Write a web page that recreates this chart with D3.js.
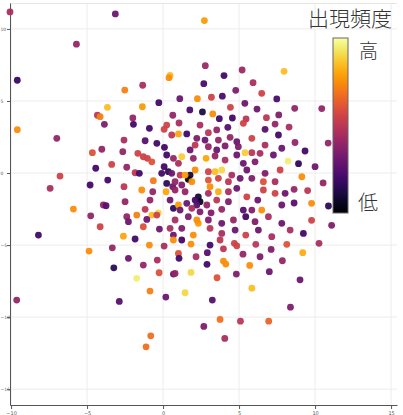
<!DOCTYPE html>
<html><head><meta charset="utf-8">
<script src="https://cdn.jsdelivr.net/npm/d3@7"></script>
<style>body{margin:0;background:#fff;overflow:hidden}</style>
</head><body>
<svg id="chart" width="403" height="415"></svg>
<script>
const xValues = [-10.07,-3.14,-5.70,-9.59,-2.52,-1.34,0.46,0.39,-3.66,-1.36,-0.28,-4.32,-4.14,-1.99,0.64,2.72,2.78,4.01,5.20,7.96,2.68,5.92,4.78,6.49,1.10,2.26,3.18,3.90,7.48,5.38,4.43,1.76,2.59,3.27,6.18,8.66,10.44,7.61,6.80,4.56,3.70,5.46,
-9.59,-6.99,-3.86,-1.95,-2.57,-0.90,0.24,0.07,0.57,-1.18,-0.41,-4.65,-4.03,-2.65,-1.66,-1.30,-1.03,-0.74,0.24,0.68,-3.38,-2.39,-4.43,-1.84,-1.56,0.07,-0.09,-6.78,-7.43,-3.64,-4.80,-2.57,-1.40,-0.64,0.24,0.64,-0.68,0.20,-5.90,-3.93,-3.75,-2.50,-0.86,0.46,0.68,-1.18,-0.31,-0.74,-0.41,-1.73,-2.39,-4.76,-2.28,-1.07,-4.14,-1.30,-0.24,0.46,-8.20,-2.61,-1.84,0.68,0.09,0.35,
1.05,2.43,1.01,1.56,2.22,2.98,3.53,4.26,5.28,6.71,7.37,8.29,7.59,5.84,4.41,4.85,6.71,8.68,9.34,10.86,7.81,7.26,6.38,5.84,5.39,4.95,4.85,4.08,3.53,2.98,3.64,2.76,2.11,1.78,1.23,1.99,2.83,3.42,4.08,5.28,6.05,8.22,8.91,10.00,6.71,7.70,7.37,6.60,9.13,10.53,5.84,5.51,5.07,4.52,4.30,3.86,3.42,2.98,3.09,3.64,2.11,1.78,1.66,1.89,1.12,1.23,0.79,2.32,2.43,2.11,2.22,1.45,1.56,1.01,2.98,3.53,2.88,4.30,4.85,5.51,6.23,6.60,7.37,8.03,8.62,9.51,9.77,10.88,8.62,7.81,6.49,5.84,5.28,4.30,3.86,3.16,2.43,1.89,1.12,1.66,2.32,2.22,2.98,3.09,3.86,4.63,5.44,6.05,6.93,7.81,9.77,11.09,8.36,7.15,6.27,5.44,4.74,3.86,1.23,1.99,0.79,9.23,1.45,1.01,0.57,0.79,2.98,3.64,
-4.87,-3.34,-0.90,0.07,0.68,-2.28,-3.24,-1.30,-0.38,-0.26,0.68,-1.73,-0.86,0.18,-2.88,-9.63,-0.81,-1.12,1.23,1.84,3.09,1.01,1.05,2.17,2.91,3.97,3.75,4.69,4.85,6.10,7.11,8.14,10.26,9.19,5.26,6.38,7.85,3.97,4.13,5.70,2.89,0.79,1.84,3.55,4.82,6.99,9.01,1.45,5.84,3.24,8.38,3.75,5.09,6.95,2.68,4.06];

const yValues = [11.18,11.04,8.94,6.44,5.76,6.09,6.77,6.62,4.56,4.60,4.88,4.01,3.91,3.82,4.01,10.58,7.45,6.76,7.15,7.06,6.20,6.27,5.74,5.53,5.16,5.16,5.26,5.33,5.14,4.84,4.56,4.38,4.24,4.10,4.44,4.49,4.47,4.03,3.84,3.82,3.77,3.75,
3.01,2.41,3.38,3.38,2.29,3.10,3.33,3.03,2.64,2.24,2.06,1.41,1.65,1.48,1.37,1.13,1.02,0.78,1.25,1.02,0.60,0.40,0.33,0.02,-0.02,0.44,-0.02,-0.21,-1.06,-0.49,-0.83,-0.95,-1.18,-0.53,-0.72,-0.95,-1.30,-1.30,-2.50,-2.22,-2.27,-1.99,-1.88,-1.88,-2.45,-2.52,-2.76,-2.92,-2.92,-2.92,-3.03,-2.97,-3.38,-3.22,-3.73,-3.73,-3.89,-3.84,-4.31,-4.38,-4.58,-4.31,1.78,0.09,
3.47,3.33,2.71,2.71,2.41,2.80,2.99,3.17,3.45,3.03,3.40,3.19,2.64,2.41,2.48,2.17,1.94,2.12,1.53,2.08,1.72,1.25,1.37,1.41,1.41,1.83,1.25,1.88,1.60,1.83,2.29,2.29,1.94,1.60,1.13,1.02,1.02,1.18,0.90,0.67,0.78,0.83,0.65,0.44,-0.02,0.21,-0.60,-0.60,-0.26,-0.69,-0.37,0.21,-0.37,-0.14,-0.60,0.21,0.09,-0.49,-0.95,-1.30,0.21,-0.14,-0.44,-0.60,-0.14,-0.83,-0.60,-1.65,-1.99,-1.88,-2.22,-1.30,-2.10,-2.22,-1.41,-1.88,-2.22,-1.30,-1.06,-1.65,-1.88,-1.18,-1.41,-1.41,-1.13,-1.22,-2.10,-2.29,-2.08,-2.22,-2.57,-2.57,-2.57,-1.99,-2.52,-2.76,-2.69,-2.45,-2.57,-3.03,-3.49,-3.26,-3.26,-3.84,-3.49,-3.26,-3.03,-3.38,-3.03,-3.49,-3.28,-3.63,-3.96,-4.42,-3.96,-4.31,-3.96,-4.19,-3.84,-4.31,-3.26,-4.19,-0.14,0.67,-0.02,-1.18,0.09,-0.37,
-5.42,-5.19,-5.00,-5.07,-4.65,-5.92,-6.58,-6.39,-6.04,-6.92,-7.01,-7.31,-8.19,-8.61,-8.91,-8.82,-11.30,-12.06,-4.65,-4.93,-5.00,-5.58,-5.92,-5.81,-5.53,-5.26,-4.65,-4.88,-5.05,-4.95,-5.30,-4.95,-4.88,-5.53,-5.63,-5.81,-6.09,-6.11,-6.32,-6.41,-6.34,-6.97,-6.90,-7.27,-7.01,-6.85,-7.41,-8.31,-7.99,-8.82,-9.31,-10.16,-10.28,-10.28,-10.65,-11.48];

const freqValues = [0.45,0.30,0.40,0.18,0.72,0.45,0.85,0.75,0.85,0.78,0.20,0.50,0.72,0.40,0.40,0.78,0.42,0.20,0.42,0.85,0.22,0.45,0.35,0.55,0.30,0.75,0.55,0.22,0.22,0.30,0.55,0.22,0.12,0.75,0.30,0.40,0.40,0.35,0.50,0.20,0.20,0.50,
0.75,0.40,0.35,0.20,0.45,0.20,0.55,0.55,0.50,0.25,0.20,0.60,0.40,0.40,0.55,0.55,0.55,0.60,0.20,0.40,0.55,0.40,0.20,0.50,0.20,0.20,0.20,0.55,0.45,0.20,0.20,0.50,0.75,0.70,0.15,0.30,0.40,0.80,0.75,0.40,0.25,0.40,0.40,0.30,0.15,0.50,0.90,0.85,0.55,0.72,0.40,0.40,0.30,0.30,0.55,0.60,0.30,0.45,0.20,0.80,0.20,0.30,0.20,0.15,
0.45,0.45,0.80,0.20,0.35,0.50,0.40,0.25,0.55,0.25,0.40,0.45,0.20,0.55,0.40,0.30,0.45,0.40,0.20,0.40,0.30,0.30,0.45,0.50,0.88,0.35,0.30,0.35,0.30,0.40,0.40,0.30,0.50,0.30,0.88,0.40,0.80,0.40,0.45,0.30,0.35,0.95,0.15,0.30,0.35,0.55,0.45,0.60,0.75,0.40,0.35,0.30,0.30,0.45,0.50,0.90,0.85,0.60,0.75,0.82,0.75,0.10,0.02,0.75,0.50,0.35,0.40,0.10,0.05,0.20,0.25,0.40,0.30,0.78,0.45,0.50,0.40,0.45,0.30,0.55,0.30,0.55,0.55,0.30,0.40,0.50,0.75,0.15,0.25,0.30,0.75,0.35,0.25,0.35,0.40,0.35,0.35,0.45,0.30,0.35,0.78,0.75,0.35,0.50,0.30,0.40,0.20,0.35,0.45,0.30,0.55,0.35,0.45,0.45,0.30,0.55,0.30,0.45,0.35,0.75,0.45,0.20,0.78,0.45,0.30,0.40,0.55,0.55,
0.75,0.40,0.75,0.45,0.75,0.30,0.15,0.40,0.45,0.60,0.30,0.95,0.72,0.30,0.25,0.40,0.68,0.68,0.20,0.75,0.20,0.60,0.20,0.45,0.25,0.50,0.50,0.55,0.55,0.50,0.35,0.60,0.45,0.82,0.40,0.35,0.40,0.75,0.75,0.75,0.20,0.40,0.90,0.60,0.35,0.30,0.30,0.90,0.85,0.25,0.35,0.68,0.50,0.65,0.35,0.45];

const xTicks = [-10, -5, 0, 5, 10, 15];
const yTicks = [-15, -10, -5, 0, 5, 10];
const xMinorTicks = d3.range(-10, 16).filter(v => !xTicks.includes(v));
const yMinorTicks = d3.range(-16, 12).filter(v => !yTicks.includes(v));
const colorbarTitle = "出現頻度";
const highLabel = "高";
const lowLabel = "低";

const svg = d3.select("#chart");
const x = d3.scaleLinear().domain([-10.07, 15.39]).range([10, 397]);
const y = d3.scaleLinear().domain([-16.1, 11.8]).range([405, 3]);
const color = d3.scaleSequential(d3.interpolateInferno).domain([0, 1]);

// grid
const grid = svg.append("g");
grid.selectAll("line.v").data(xTicks).join("line")
  .attr("x1", d => x(d)).attr("x2", d => x(d))
  .attr("y1", y.range()[1]).attr("y2", y.range()[0])
  .attr("stroke", "#ececec").attr("stroke-width", 1);
grid.selectAll("line.h").data(yTicks).join("line")
  .attr("y1", d => y(d)).attr("y2", d => y(d))
  .attr("x1", x.range()[0]).attr("x2", x.range()[1])
  .attr("stroke", "#ececec").attr("stroke-width", 1);
grid.append("line")
  .attr("x1", x.range()[0]).attr("x2", x.range()[1])
  .attr("y1", y.range()[1] + 0.5).attr("y2", y.range()[1] + 0.5)
  .attr("stroke", "#e6e6e6");

// axes
const fmt = d3.format("d");
const xAxisG = svg.append("g").attr("transform", `translate(0,${y.range()[0]})`);
xAxisG.call(d3.axisBottom(x).tickValues(xMinorTicks).tickSize(2).tickSizeOuter(0).tickFormat(""));
xAxisG.call(d3.axisBottom(x).tickValues(xTicks).tickSize(4).tickSizeOuter(0).tickPadding(2).tickFormat(fmt));
const yAxisG = svg.append("g").attr("transform", `translate(${x.range()[0]},0)`);
yAxisG.call(d3.axisLeft(y).tickValues(yMinorTicks).tickSize(2).tickSizeOuter(0).tickFormat(""));
yAxisG.call(d3.axisLeft(y).tickValues(yTicks).tickSize(3).tickSizeOuter(0).tickPadding(1).tickFormat(fmt));
svg.selectAll(".domain").attr("stroke", "#555");
svg.selectAll(".tick line").attr("stroke", "#555");
svg.selectAll(".tick text").attr("font-size", 5).attr("fill", "#555")
  .attr("font-family", "DejaVu Sans, sans-serif");
yAxisG.selectAll(".tick text").attr("text-anchor", "start").attr("x", -9.5).attr("font-size", 4.5);

// points
const pts = xValues.map((v, i) => ({x: v, y: yValues[i], f: freqValues[i]}));
svg.append("g").selectAll("circle").data(pts).join("circle")
  .attr("cx", d => x(d.x)).attr("cy", d => y(d.y)).attr("r", 3.4)
  .attr("fill", d => color(d.f)).attr("fill-opacity", 0.95);

// colorbar
const defs = svg.append("defs");
const grad = defs.append("linearGradient").attr("id", "cbar")
  .attr("x1", 0).attr("y1", 1).attr("x2", 0).attr("y2", 0);
grad.selectAll("stop").data(d3.range(0, 1.0001, 0.05)).join("stop")
  .attr("offset", d => d).attr("stop-color", d => color(d));
const cb = {x: 333, y: 38, w: 15, h: 175};
svg.append("rect").attr("x", cb.x).attr("y", cb.y).attr("width", cb.w).attr("height", cb.h)
  .attr("fill", "url(#cbar)").attr("stroke", "#666").attr("stroke-width", 1);

const cjk = "'Noto Sans CJK JP', 'Noto Sans CJK SC', sans-serif";
svg.append("text").attr("x", 392).attr("y", 26).attr("text-anchor", "end")
  .attr("font-size", 21).attr("font-family", cjk).attr("font-weight", 300).attr("fill", "#333").text(colorbarTitle);
svg.append("text").attr("x", 359).attr("y", 58).attr("font-size", 19)
  .attr("font-family", cjk).attr("font-weight", 300).attr("fill", "#333").text(highLabel);
svg.append("text").attr("x", 358).attr("y", 210).attr("font-size", 20)
  .attr("font-family", cjk).attr("font-weight", 300).attr("fill", "#333").text(lowLabel);
</script>
</body></html>
